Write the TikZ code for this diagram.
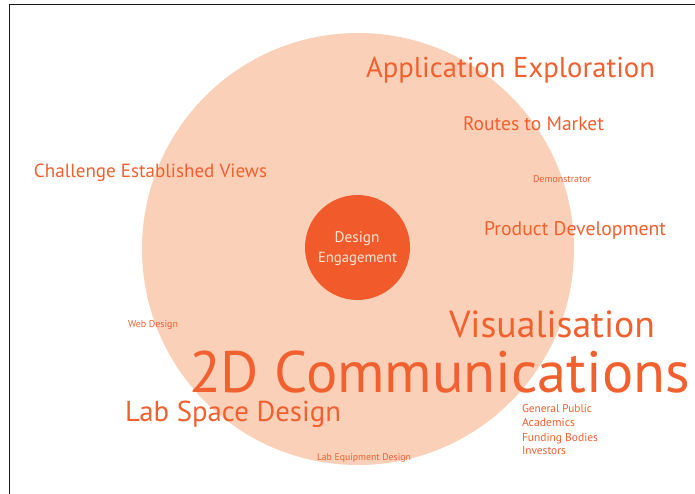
\documentclass[tikz,border=0pt]{standalone}
\usepackage{fontspec}
\setmainfont{PT Sans}
\usepackage{graphicx}
\definecolor{peach}{HTML}{FAD0B9}
\definecolor{hub}{HTML}{F15A2B}
\definecolor{txt}{HTML}{F1602F}
\definecolor{hubtxt}{HTML}{FDE3D4}
\newcommand{\fitw}[2]{\resizebox{#1pt}{!}{#2}}
\tikzset{
  lbl/.style={anchor=base west, inner sep=0pt, outer sep=0pt, text=txt, font=\fontsize{20}{24}\selectfont},
  hublbl/.style={anchor=base, inner sep=0pt, text=hubtxt}
}
\begin{document}
\begin{tikzpicture}[x=1pt,y=-1pt]
\useasboundingbox (0,0) rectangle (695,494);
\fill[white] (0,0) rectangle (695,494);
% frame
\draw[line width=1.5pt, black!90] (9.5,494) -- (9.5,4.5) -- (695,4.5);
% circles
\fill[peach] (358,249) circle[radius=216pt];
\fill[hub] (357.5,247.5) circle[radius=52.5pt];
% hub text
\node[hublbl] (design) at (357,243) {\fitw{45}{Design}};
\node[hublbl] (engagement) at (357.5,262) {\fitw{79}{Engagement}};
% labels
\node[lbl] (appexp) at (366,78) {\fitw{289}{Application Exploration}};
\node[lbl] (routes) at (463,131) {\fitw{141}{Routes to Market}};
\node[lbl] (challenge) at (34,178) {\fitw{233}{Challenge Established Views}};
\node[lbl] (demo) at (533,183) {\fitw{58}{Demonstrator}};
\node[lbl] (product) at (484,235) {\fitw{182}{Product Development}};
\node[lbl] (web) at (128,327) {\fitw{50}{Web Design}};
\node[lbl] (visual) at (449,337) {\fitw{206}{Visualisation}};
\node[lbl] (comm) at (189,392) {\fitw{501}{2D Communications}};
\node[lbl] (labspace) at (125,421) {\fitw{216}{Lab Space Design}};
\node[lbl] (public) at (522,412) {\fitw{70}{General Public}};
\node[lbl] (academics) at (522,426) {\fitw{53}{Academics}};
\node[lbl] (funding) at (522,441) {\fitw{76}{Funding Bodies}};
\node[lbl] (investors) at (522,454) {\fitw{44}{Investors}};
\node[lbl] (labequip) at (317,460) {\fitw{94}{Lab Equipment Design}};
\end{tikzpicture}
\end{document}
